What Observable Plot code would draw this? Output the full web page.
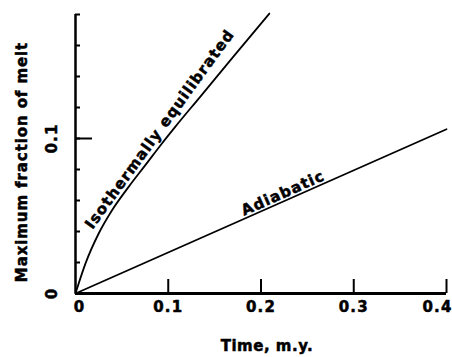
<!DOCTYPE html>
<html>
<head>
<meta charset="utf-8">
<script src="https://cdn.jsdelivr.net/npm/d3@7"></script>
<script src="https://cdn.jsdelivr.net/npm/@observablehq/plot@0.6"></script>
<style>
  html, body { margin: 0; padding: 0; background: #fff; }
  #chart svg { display: block; }
</style>
</head>
<body>
<div id="chart"></div>
<script>
// Isothermally equilibrated curve (time in m.y., maximum fraction of melt)
const isoTime = [0, 0.0108, 0.025, 0.0394, 0.0573, 0.0753, 0.0932, 0.1075, 0.1344, 0.170, 0.209];
const isoMelt = [0, 0.0194, 0.0387, 0.0537, 0.0688, 0.0828, 0.0968, 0.1075, 0.1269, 0.1527, 0.1806];
// Adiabatic line
const adiTime = [0, 0.4];
const adiMelt = [0, 0.106];
// Axis ticks and labels
const xTicks = [0, 0.1, 0.2, 0.3, 0.4];
const xTickLabels = ["0", "0.1", "0.2", "0.3", "0.4"];
const xMajorTicks = [0.1, 0.2, 0.3, 0.4];
const yMinorTicks = [0, 0.02, 0.04, 0.06, 0.08, 0.1, 0.12, 0.14, 0.16, 0.18];
const yMajorTicks = [0.1];
const yTicks = [0, 0.1];
const yTickLabels = ["0", "0.1"];
const xTitle = "Time, m.y.";
const yTitle = "Maximum fraction of melt";
const curveLabels = ["Isothermally equilibrated", "Adiabatic"];
const labelTime = [0.0909, 0.2237];
const labelMelt = [0.106, 0.0647];
const labelAngle = [-54, -24];

const iso = isoTime.map((t, i) => ({t, m: isoMelt[i]}));
const adi = adiTime.map((t, i) => ({t, m: adiMelt[i]}));
const xLab = xTicks.map((v, i) => ({v, s: xTickLabels[i]}));
const yLab = yTicks.map((v, i) => ({v, s: yTickLabels[i]}));
const lab = curveLabels.map((s, i) => ({s, t: labelTime[i], m: labelMelt[i], a: labelAngle[i]}));

const font = "'DejaVu Sans', sans-serif";
const txt = {fontFamily: font, fontWeight: "bold", fontSize: 15, fill: "#000", stroke: "#000", strokeWidth: 0.5, textAnchor: "middle"};

const chart = Plot.plot({
  width: 452,
  height: 357,
  marginLeft: 75,
  marginRight: 6,
  marginTop: 14,
  marginBottom: 64,
  style: {background: "#fff", color: "#000", fontFamily: font},
  x: {domain: [0, 0.4]},
  y: {domain: [0, 0.18]},
  marks: [
    Plot.axisX({ticks: xMajorTicks, tickSize: -14, tickFormat: () => "", strokeWidth: 2, label: null}),
    Plot.axisY({ticks: yMinorTicks, tickSize: -5, tickFormat: () => "", strokeWidth: 2, label: null}),
    Plot.axisY({ticks: yMajorTicks, tickSize: -17, tickFormat: () => "", strokeWidth: 2, label: null}),
    Plot.ruleY([0], {stroke: "#000", strokeWidth: 3}),
    Plot.ruleX([0], {stroke: "#000", strokeWidth: 2.5}),
    Plot.line(iso, {x: "t", y: "m", stroke: "#000", strokeWidth: 1.8, curve: "monotone-x"}),
    Plot.line(adi, {x: "t", y: "m", stroke: "#000", strokeWidth: 1.8}),
    Plot.text(xLab.filter(d => d.v > 0 && d.v < 0.4), {x: "v", text: "s", frameAnchor: "bottom", dy: 18, ...txt}),
    Plot.text(xLab.filter(d => d.v >= 0.4), {x: "v", text: "s", frameAnchor: "bottom", dy: 18, dx: -9, ...txt}),
    Plot.text(xLab.filter(d => d.v === 0), {x: "v", text: "s", frameAnchor: "bottom", dy: 18, dx: 4, ...txt}),
    Plot.text(yLab, {y: "v", text: "s", frameAnchor: "left", dx: -23, rotate: -90, ...txt}),
    Plot.text([xTitle], {frameAnchor: "bottom", dx: 6, dy: 57, ...txt}),
    Plot.text([yTitle], {frameAnchor: "left", dx: -53, dy: 8, rotate: -90, ...txt}),
    Plot.text(lab, {x: "t", y: "m", text: "s", rotate: "a", ...txt})
  ]
});
// letter spacing for each text mark, in mark order
const spacing = [1.2, 1.2, 1.2, 1.2, 0.5, 0.9, 1.1];
chart.querySelectorAll('g[aria-label="text"]').forEach((g, i) => g.setAttribute("letter-spacing", spacing[i] ?? 1));
document.getElementById("chart").appendChild(chart);
</script>
</body>
</html>
